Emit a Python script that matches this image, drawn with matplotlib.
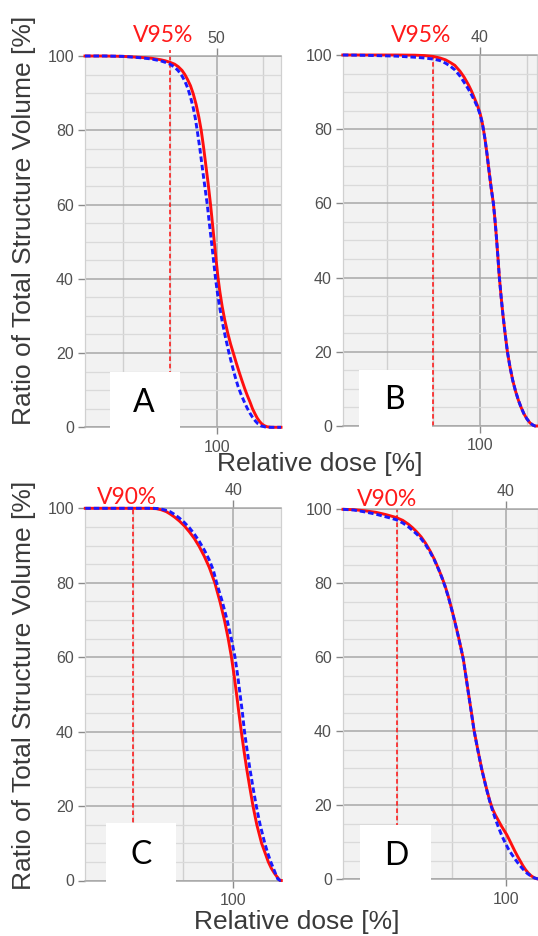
import matplotlib
matplotlib.use('Agg')
import matplotlib.pyplot as plt
from matplotlib.patches import Rectangle
import numpy as np

W, H = 538, 936

# ---------------- data (relative dose %, volume %) ----------------
a_red_dose = [85.9, 88, 90, 92, 93, 94, 94.5, 95.0, 95.5, 95.9, 96.3, 96.6, 96.9, 97.2, 97.5, 97.8,
              98.1, 98.35, 98.6, 98.85, 99.1, 99.35, 99.55, 99.75, 99.95, 100.14, 100.35, 100.6,
              100.88, 101.2, 101.5, 101.79, 102.1, 102.4, 102.7, 103.0, 103.3, 103.58, 103.85,
              104.1, 104.35, 104.6, 104.85, 105.1, 105.4, 105.8, 106.2, 106.9]
a_red_vol = [100, 100, 99.9, 99.6, 99.4, 99.0, 98.7, 98.3, 97.8, 97.1, 96.1, 95.0, 93.6, 92.0, 89.8, 87.0,
             83.5, 80, 75.5, 70.5, 65.5, 60, 55, 50, 45, 40.5, 36.5, 32.5,
             28.8, 25.3, 22.4, 20, 17.4, 15, 12.7, 10.5, 8.5, 6.8, 5.0,
             3.7, 2.5, 1.6, 0.9, 0.45, 0.15, 0.02, 0, 0]
a_blue_dose = [85.9, 88, 90, 92, 93, 94, 94.5, 95.0, 95.5, 95.9, 96.3, 96.6, 96.9, 97.2, 97.5, 97.7,
               97.92, 98.2, 98.45, 98.72, 99.0, 99.22, 99.45, 99.67, 99.89, 100.1, 100.35, 100.6,
               100.95, 101.33, 101.65, 102.0, 102.3, 102.6, 102.94, 103.25, 103.55, 103.85, 104.15,
               104.45, 104.8, 105.2, 105.6, 106.9]
a_blue_vol = [100, 100, 99.9, 99.5, 99.2, 98.7, 98.3, 97.8, 97.0, 96.0, 94.6, 93.2, 91.4, 89.0, 86.0, 83.5,
              80, 75.2, 70.3, 65.2, 60, 55, 50, 45, 40, 36, 32, 28.5,
              24.2, 20, 16.8, 13.5, 11.0, 9.0, 7.0, 5.3, 3.9, 2.7, 1.7,
              0.9, 0.35, 0.1, 0, 0]

b_red_dose = [85.3, 88, 91, 93, 94, 95, 95.7, 96.3, 96.8, 97.3, 97.86, 98.3, 98.75, 99.1, 99.46,
              99.75, 100.0, 100.2, 100.36, 100.55, 100.75, 100.95, 101.2, 101.43, 101.6, 101.75,
              101.9, 102.07, 102.25, 102.45, 102.68, 102.93, 103.2, 103.5, 103.8, 104.1, 104.4,
              104.7, 105.0, 105.36, 105.7, 105.9, 106.1]
b_red_vol = [100, 100, 100, 99.95, 99.85, 99.6, 99.2, 98.7, 98.0, 97.2, 95.6, 94.0, 92.0, 90.2, 88.0,
             86.2, 84.3, 82.2, 80, 77, 73.2, 69.0, 64, 60, 55.5, 51,
             46, 40, 35, 30, 25, 20, 16, 12.3, 9.4, 7.0, 5.0,
             3.3, 2.0, 0.8, 0.2, 0, 0]
b_blue_dose = [85.3, 88, 91, 93, 94, 95, 95.7, 96.3, 96.8, 97.3, 97.86, 98.3, 98.75, 99.1, 99.46,
               99.75, 100.0, 100.2, 100.36, 100.55, 100.75, 100.95, 101.2, 101.43, 101.6, 101.75,
               101.9, 102.07, 102.25, 102.45, 102.68, 102.93, 103.2, 103.5, 103.8, 104.1, 104.4,
               104.7, 105.0, 105.36, 105.7, 105.9, 106.1]
b_blue_vol = [100, 99.9, 99.7, 99.4, 99.2, 98.9, 98.5, 97.8, 97.0, 96.0, 94.3, 92.6, 90.8, 89.2, 87.4,
              85.8, 84.0, 82.0, 80, 77, 73.2, 69.0, 64, 60, 55.5, 51,
              46, 40, 35, 30, 25, 20, 16, 12.3, 9.4, 7.0, 5.0,
              3.3, 2.0, 0.8, 0.2, 0, 0]

c_red_dose = [85.2, 88, 90, 91.5, 92.3, 92.8, 93.3, 93.67, 94.1, 94.6, 95.1, 95.6, 96.1, 96.6, 97.1,
              97.6, 98.15, 98.66, 99.11, 99.49, 99.815, 100.085, 100.33, 100.56, 100.8, 101.06, 101.34,
              101.65, 101.97, 102.35, 102.83, 103.1, 103.5, 103.8, 104.1, 104.4, 104.67, 104.8]
c_red_vol = [100, 100, 100, 100, 99.9, 99.6, 99.1, 98.5, 97.7, 96.6, 95.3, 93.7, 91.9, 89.7, 87.1,
             84.1, 80, 75, 70, 65, 60, 55, 50, 45, 40, 35, 30,
             25, 20, 15, 10, 8, 5, 3.3, 2, 0.9, 0, 0]
c_blue_dose = [85.2, 88, 90, 92, 92.6, 93.1, 93.67, 94.1, 94.6, 95.1, 95.6, 96.1, 96.6, 97.1, 97.6,
               98.0, 98.33, 98.89, 99.38, 99.8, 100.17, 100.44, 100.68, 100.915, 101.12, 101.38,
               101.66, 101.97, 102.3, 102.68, 103.15, 103.45, 103.75, 104.2, 104.45, 104.7, 104.8]
c_blue_vol = [100, 100, 100, 100, 99.9, 99.6, 99.1, 98.4, 97.4, 96.2, 94.8, 93.1, 91.1, 88.8, 86.1,
              83.4, 80, 75, 70, 65, 60, 55, 50, 45, 40, 35,
              30, 25, 20, 15, 10, 7.3, 5, 2, 0.4, 0, 0]

d_red_dose = [85.0, 86.0, 87.0, 88.0, 88.9, 89.88, 90.5, 91.0, 91.4, 91.78, 92.2, 92.6, 93.0, 93.4,
              93.8, 94.1, 94.39, 94.7, 95.0, 95.3, 95.6, 95.85, 96.07, 96.3, 96.53, 96.8, 97.06,
              97.4, 97.76, 98.2, 98.5, 98.75, 99.0, 99.3, 99.6, 99.85, 100.06, 100.3, 100.55,
              100.8, 101.05, 101.3, 101.55, 101.8, 102.05, 102.3, 102.6, 102.94]
d_red_vol = [100, 99.9, 99.6, 99.2, 98.6, 97.8, 97.0, 96.0, 95.0, 93.9, 92.5, 90.8, 88.8, 86.5,
             83.8, 81.6, 79.3, 76.3, 73.0, 69.5, 65.8, 62.5, 59.5, 55, 50.5, 45.3, 40.2,
             35, 29.8, 24.5, 21.2, 19.0, 17.4, 15.8, 14.2, 13.0, 12.0, 10.6, 9.1,
             7.6, 6.2, 4.9, 3.6, 2.5, 1.6, 0.9, 0.3, 0]
d_blue_dose = [85.0, 86.0, 87.0, 88.0, 88.9, 89.88, 90.5, 91.0, 91.4, 91.78, 92.2, 92.6, 93.0, 93.4,
               93.8, 94.1, 94.39, 94.7, 95.0, 95.3, 95.6, 95.85, 96.07, 96.3, 96.53, 96.8, 97.06,
               97.4, 97.76, 98.2, 98.5, 98.75, 99.0, 99.3, 99.6, 99.9, 100.2, 100.5, 100.8,
               101.1, 101.4, 101.7, 102.0, 102.3, 102.6, 102.94]
d_blue_vol = [100, 99.8, 99.3, 98.7, 98.0, 97.2, 96.3, 95.3, 94.3, 93.3, 92.0, 90.4, 88.5, 86.3,
              83.7, 81.5, 79.1, 76.2, 72.9, 69.4, 65.7, 62.4, 59.4, 55, 50.4, 45.2, 40.1,
              34.9, 29.7, 24.3, 21.0, 18.6, 16.4, 14.0, 11.8, 9.9, 8.2, 6.8, 5.5,
              4.3, 3.2, 2.2, 1.4, 0.8, 0.3, 0]

panel_letters = ['A', 'B', 'C', 'D']
v_labels = ['V95%', 'V95%', 'V90%', 'V90%']
v_dose = [95, 95, 90, 90]
top_dose_labels = ['50', '40', '40', '40']
y_ticks = [0, 20, 40, 60, 80, 100]
x_tick_label = '100'
y_label = 'Ratio of Total Structure Volume [%]'
x_label = 'Relative dose [%]'

reds = [(a_red_dose, a_red_vol), (b_red_dose, b_red_vol), (c_red_dose, c_red_vol), (d_red_dose, d_red_vol)]
blues = [(a_blue_dose, a_blue_vol), (b_blue_dose, b_blue_vol), (c_blue_dose, c_blue_vol), (d_blue_dose, d_blue_vol)]

# ---------------- layout (pixels) ----------------
# left, right, top, bottom
rects = [(85, 281, 56, 427.3), (343, 537, 55, 426), (85, 281, 508.3, 880.5), (343, 538, 509.3, 879)]
xlims = [(85.9, 106.9), (85.32, 106.1), (85.17, 104.77), (85.0, 102.94)]
vline_top = [1.016, 1.0, 1.0, 1.0]
vlabel_pos = [(163, 35), (421, 36), (127, 497), (387, 499)]
box_px = [(110, 180, 372, 430), (359, 432, 370, 427.5), (106, 176, 823, 882), (360, 431, 825, 881)]
letter_pos = [(144, 403), (394, 400), (141, 855), (396, 856)]

LS = 'Liberation Sans'
TXT = '#3a3a3a'
TICKC = '#505050'

fig = plt.figure(figsize=(W / 100, H / 100), dpi=100)
fig.patch.set_facecolor('white')


def frect(l, r, t, b):
    return [l / W, 1 - b / H, (r - l) / W, (b - t) / H]


for i in range(4):
    l, r, t, b = rects[i]
    ax = fig.add_axes(frect(l, r, t, b))
    ax.set_facecolor('#f2f2f2')
    ax.set_xlim(*xlims[i])
    ax.set_ylim(0, 100)
    ax.set_axisbelow(True)

    ax.set_yticks(y_ticks)
    ax.set_yticklabels([str(v) for v in y_ticks], family=LS)
    ax.set_yticks(np.arange(0, 101, 5), minor=True)
    lo, hi = xlims[i]
    minors = [v for v in np.arange(85, 110, 5) if lo + 0.3 < v < hi - 0.3 and v != 100]
    ax.set_xticks([100])
    ax.set_xticklabels([x_tick_label], family=LS)
    ax.set_xticks(minors, minor=True)

    ax.grid(which='major', axis='y', color='#a8a8a8', lw=1.1)
    ax.grid(which='minor', axis='y', color='#dadada', lw=0.9)
    ax.grid(which='major', axis='x', color='#a8a8a8', lw=1.1)
    ax.grid(which='minor', axis='x', color='#d0d0d0', lw=1.0)

    ax.tick_params(which='major', axis='both', length=5, width=1, color='#8a8a8a',
                   labelsize=11.5, labelcolor=TICKC, pad=3)
    ax.tick_params(which='major', axis='x', pad=4)
    ax.tick_params(which='minor', length=0)

    for s in ['left', 'right']:
        ax.spines[s].set_color('#d0d0d0')
        ax.spines[s].set_linewidth(0.9)
    for s in ['top', 'bottom']:
        ax.spines[s].set_color('#a8a8a8')
        ax.spines[s].set_linewidth(1.1)

    sec = ax.secondary_xaxis('top')
    sec.set_xticks([100])
    sec.set_xticklabels([top_dose_labels[i]], family=LS)
    sec.tick_params(length=6, width=1, color='#8a8a8a', labelsize=11.5, labelcolor=TICKC, pad=1.5)
    sec.spines['top'].set_visible(False)

    rd, rv = reds[i]
    bd, bv = blues[i]
    ax.plot(rd, rv, color='#ff0f0f', lw=2.1, clip_on=False, zorder=3)
    ax.plot(bd, bv, color='#1a1aff', lw=2.1, linestyle=(0, (1.9, 1.0)), clip_on=False, zorder=4)

    ax.axvline(v_dose[i], ymin=0, ymax=vline_top[i], color='#ff1010', lw=1.1,
               linestyle=(0, (3, 1.8)), clip_on=False, zorder=2)

    # white label box
    bl, br, bt, bb = box_px[i]
    fig.patches.append(Rectangle((bl / W, 1 - bb / H), (br - bl) / W, (bb - bt) / H,
                                 transform=fig.transFigure, facecolor='white',
                                 edgecolor='none', zorder=5))
    lx, ly = letter_pos[i]
    fig.text(lx / W, 1 - ly / H, panel_letters[i], family='Lato', fontsize=23,
             color='black', ha='center', va='center', zorder=6)
    vx, vy = vlabel_pos[i]
    fig.text(vx / W, 1 - vy / H, v_labels[i], family='Lato', fontsize=16.5,
             color='#ff1a1a', ha='center', va='center', zorder=6)

# axis titles
fig.text(24 / W, 1 - 220 / H, y_label, family=LS, fontsize=19, color=TXT,
         rotation=90, ha='center', va='center')
fig.text(24 / W, 1 - 685 / H, y_label, family=LS, fontsize=19, color=TXT,
         rotation=90, ha='center', va='center')
fig.text(320 / W, 1 - 464 / H, x_label, family=LS, fontsize=19, color=TXT,
         ha='center', va='center')
fig.text(297 / W, 1 - 922 / H, x_label, family=LS, fontsize=19, color=TXT,
         ha='center', va='center')

fig.savefig('out.png', dpi=100, facecolor='white')
